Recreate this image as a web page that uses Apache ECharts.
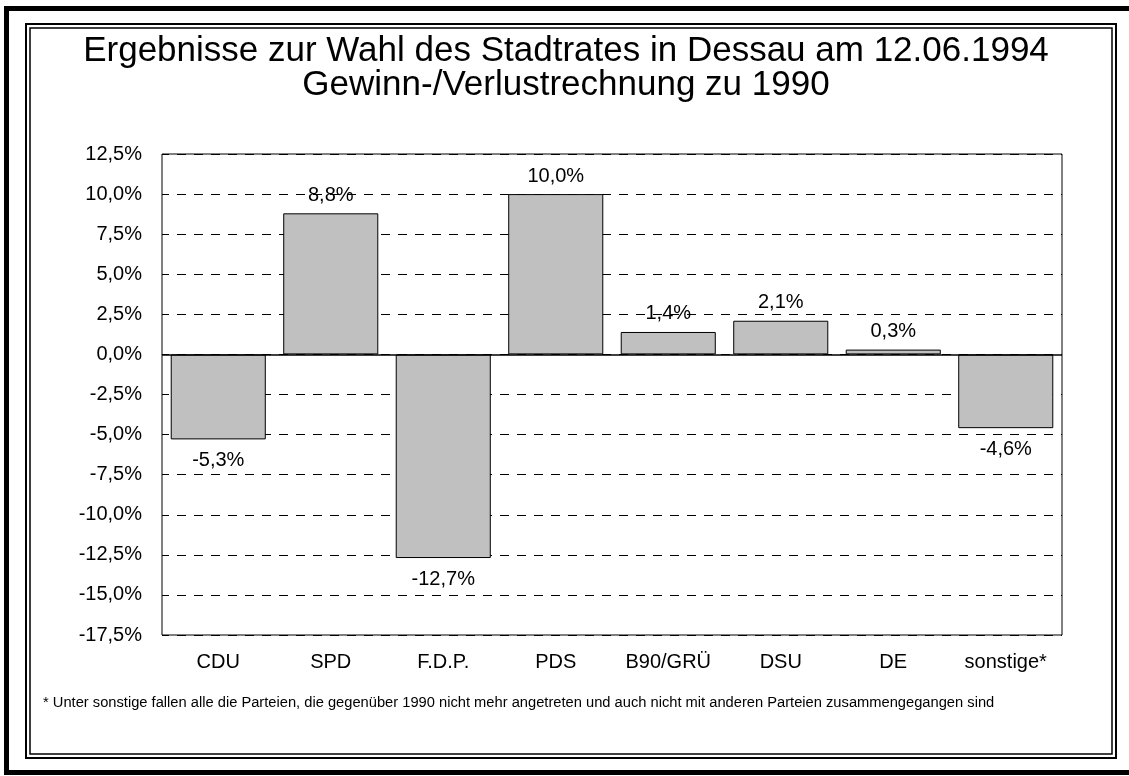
<!DOCTYPE html>
<html>
<head>
<meta charset="utf-8">
<script src="https://cdn.jsdelivr.net/npm/echarts@6/dist/echarts.min.js"></script>
<style>
html,body{margin:0;padding:0;background:#fff;}
#chart{width:1129px;height:776px;}
</style>
</head>
<body>
<div id="chart"></div>
<script>
const titleLines = ['Ergebnisse zur Wahl des Stadtrates in Dessau am 12.06.1994', 'Gewinn-/Verlustrechnung zu 1990'];
const categories = ['CDU', 'SPD', 'F.D.P.', 'PDS', 'B90/GRÜ', 'DSU', 'DE', 'sonstige*'];
const values = [-5.3, 8.8, -12.7, 10.0, 1.4, 2.1, 0.3, -4.6];
const yMin = -17.5, yMax = 12.5, yStep = 2.5;
const footnote = '* Unter sonstige fallen alle die Parteien, die gegenüber 1990 nicht mehr angetreten und auch nicht mit anderen Parteien zusammengegangen sind';

const FONT = '"Liberation Sans", Arial, sans-serif';
const fmt = v => v.toFixed(1).replace('.', ',') + '%';

const chart = echarts.init(document.getElementById('chart'), null, {renderer: 'canvas'});
chart.setOption({
  backgroundColor: '#fff',
  animation: false,
  grid: {left: 162, top: 154, width: 900, height: 481, show: true, borderColor: '#000', borderWidth: 1, backgroundColor: 'transparent'},
  xAxis: {
    type: 'category', data: categories, position: 'bottom',
    axisLine: {show: false, onZero: false}, axisTick: {show: false},
    axisLabel: {color: '#000', fontFamily: FONT, fontSize: 20, margin: 17, interval: 0}
  },
  yAxis: {
    type: 'value', min: yMin, max: yMax, interval: yStep,
    axisLine: {show: false}, axisTick: {show: false},
    axisLabel: {color: '#000', fontFamily: FONT, fontSize: 20, margin: 20, formatter: v => fmt(v)},
    splitLine: {show: true, lineStyle: {color: '#000', width: 1, type: [9, 8], dashOffset: 2}}
  },
  series: [{
    type: 'bar',
    data: values.map(v => ({value: v, label: {position: v >= 0 ? 'top' : 'bottom', distance: v >= 0 ? 8 : 11}})),
    barCategoryGap: '15.5%',
    itemStyle: {color: '#c0c0c0', borderColor: '#000', borderWidth: 1},
    label: {show: true, color: '#000', fontFamily: FONT, fontSize: 20, formatter: p => fmt(p.value)},
    markLine: {
      silent: true, symbol: ['none', 'none'], label: {show: false},
      lineStyle: {color: '#000', width: 1.5, type: 'solid'},
      data: [{yAxis: 0}]
    }
  }],
  graphic: [
    {type: 'rect', shape: {x: 6.5, y: 8.5, width: 1140, height: 764}, style: {fill: 'none', stroke: '#000', lineWidth: 5}, silent: true},
    {type: 'rect', shape: {x: 26, y: 24, width: 1090, height: 734}, style: {fill: 'none', stroke: '#000', lineWidth: 2}, silent: true},
    {type: 'rect', shape: {x: 30, y: 28, width: 1082, height: 726}, style: {fill: 'none', stroke: '#000', lineWidth: 1.5}, silent: true},
    {type: 'text', x: 566, y: 51, style: {text: titleLines[0], font: '35px ' + FONT, fill: '#000', textAlign: 'center', textVerticalAlign: 'middle'}, silent: true},
    {type: 'text', x: 566, y: 85, style: {text: titleLines[1], font: '35px ' + FONT, fill: '#000', textAlign: 'center', textVerticalAlign: 'middle'}, silent: true},
    {type: 'text', x: 43, y: 703, style: {text: footnote, font: '14.7px ' + FONT, fill: '#000', textAlign: 'left', textVerticalAlign: 'middle'}, silent: true}
  ]
});
</script>
</body>
</html>
